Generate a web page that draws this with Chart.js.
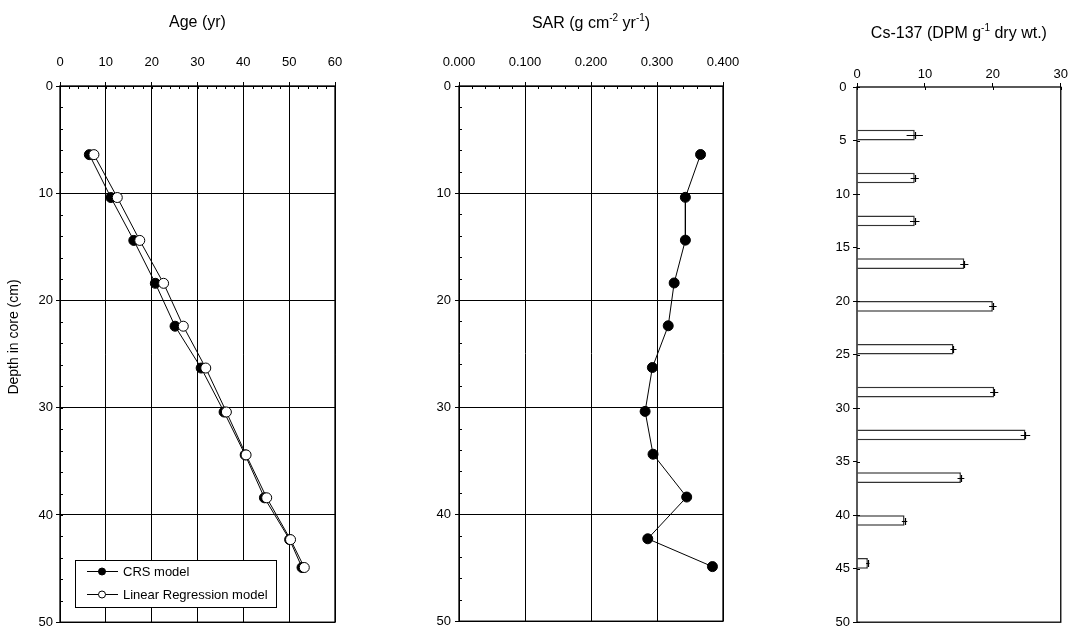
<!DOCTYPE html>
<html>
<head>
<meta charset="utf-8">
<title>Core profiles</title>
<script src="https://cdn.jsdelivr.net/npm/chart.js@4.4.0/dist/chart.umd.min.js"></script>
<style>
    html, body { margin: 0; padding: 0; background: #fff; }
    #wrap { position: relative; width: 1069px; height: 633px; }
    #wrap canvas { position: absolute; left: 0; top: 0; }
</style>
</head>
<body>
<div id="wrap">
    <canvas id="ageChart" width="1069" height="633"></canvas>
    <canvas id="sarChart" width="1069" height="633"></canvas>
    <canvas id="csChart" width="1069" height="633"></canvas>
</div>
<script>
// Mid depth of each dated slice (cm)
const depth = [6.4, 10.4, 14.4, 18.4, 22.4, 26.3, 30.4, 34.4, 38.4, 42.3, 44.9];
// Age (yr) from the two dating models
const crsAge = [6.4, 11.1, 16.1, 20.8, 25.1, 30.8, 35.8, 40.4, 44.6, 50.1, 52.8];
const lrAge = [7.4, 12.5, 17.4, 22.6, 26.9, 31.8, 36.3, 40.6, 45.1, 50.3, 53.3];
// Sediment accumulation rate (g cm-2 yr-1)
const sar = [0.366, 0.343, 0.343, 0.326, 0.317, 0.293, 0.282, 0.294, 0.345, 0.286, 0.384];
// Cs-137 activity per 1 cm slice
const csDepth = [4.5, 8.5, 12.5, 16.5, 20.5, 24.5, 28.5, 32.5, 36.5, 40.5, 44.5];
const cs137 = [8.5, 8.5, 8.5, 15.8, 20.0, 14.2, 20.2, 24.8, 15.3, 7.0, 1.6];
const csError = [1.2, 0.6, 0.7, 0.6, 0.55, 0.45, 0.6, 0.7, 0.5, 0.4, 0.25];

const legendLabels = ['CRS model', 'Linear Regression model'];

const FONT = '"Liberation Sans", Arial, sans-serif';
const tickFont = { family: FONT, size: 13 };

Chart.defaults.font.family = FONT;
Chart.defaults.color = '#000';

function pairs(xs, ys) {
    return xs.map((x, i) => ({ x: x, y: ys[i] }));
}

// Draws a label made of normal and superscript pieces, centred on cx
function drawParts(ctx, parts, cx, baseline, size) {
    const supSize = Math.round(size * 0.65);
    let total = 0;
    parts.forEach(p => {
        ctx.font = `${p.sup ? supSize : size}px ${FONT}`;
        p.w = ctx.measureText(p.t).width;
        total += p.w;
    });
    let x = cx - total / 2;
    ctx.textAlign = 'left';
    ctx.textBaseline = 'alphabetic';
    parts.forEach(p => {
        ctx.font = `${p.sup ? supSize : size}px ${FONT}`;
        ctx.fillText(p.t, x, p.sup ? baseline - size * 0.42 : baseline);
        x += p.w;
    });
}

// Frame, inner tick marks and panel title
const panelDecor = {
    id: 'panelDecor',
    afterDraw(chart, args, opts) {
        const { ctx, chartArea: a, scales } = chart;
        const xs = scales.x, ys = scales.y;
        ctx.save();
        ctx.strokeStyle = '#000';
        ctx.lineWidth = 1;
        ctx.beginPath();
        const nx = Math.round((xs.max - xs.min) / opts.xStep);
        for (let i = 0; i <= nx; i++) {
            const px = Math.round(xs.getPixelForValue(xs.min + i * opts.xStep)) + 0.5;
            ctx.moveTo(px, a.top);
            ctx.lineTo(px, a.top + opts.len);
        }
        const ny = Math.round((ys.max - ys.min) / opts.yStep);
        for (let i = 0; i <= ny; i++) {
            const py = Math.round(ys.getPixelForValue(ys.min + i * opts.yStep)) + 0.5;
            ctx.moveTo(a.left, py);
            ctx.lineTo(a.left + opts.len, py);
        }
        ctx.stroke();

        ctx.lineWidth = 1.3;
        ctx.strokeRect(a.left, a.top, a.right - a.left, a.bottom - a.top);

        ctx.fillStyle = '#000';
        drawParts(ctx, opts.title, (a.left + a.right) / 2, opts.titleY, 16);
        ctx.restore();
    }
};

// Boxed legend and depth title for the age panel
const ageExtras = {
    id: 'ageExtras',
    afterDraw(chart) {
        const ctx = chart.ctx;
        const sets = chart.data.datasets;
        ctx.save();
        ctx.fillStyle = '#fff';
        ctx.fillRect(75, 560, 201, 48);
        ctx.strokeStyle = '#000';
        ctx.lineWidth = 1;
        ctx.strokeRect(75.5, 560.5, 201, 47);
        const rows = [571, 594];
        rows.forEach((y, i) => {
            ctx.beginPath();
            ctx.moveTo(87, y + 0.5);
            ctx.lineTo(118, y + 0.5);
            ctx.stroke();
            ctx.beginPath();
            ctx.arc(102, y + 0.5, 3.5, 0, Math.PI * 2);
            ctx.fillStyle = sets[i].backgroundColor;
            ctx.fill();
            ctx.stroke();
            ctx.fillStyle = '#000';
            ctx.font = `13px ${FONT}`;
            ctx.textAlign = 'left';
            ctx.textBaseline = 'middle';
            ctx.fillText(legendLabels[i], 123, y + 1);
        });

        ctx.translate(14, 337);
        ctx.rotate(-Math.PI / 2);
        ctx.font = `14px ${FONT}`;
        ctx.textAlign = 'center';
        ctx.textBaseline = 'middle';
        ctx.fillText('Depth in core (cm)', 0, 0);
        ctx.restore();
    }
};

// Horizontal error bars on the Cs-137 columns
const csErrorBars = {
    id: 'csErrorBars',
    afterDatasetsDraw(chart) {
        const { ctx, scales } = chart;
        ctx.save();
        ctx.strokeStyle = '#000';
        ctx.lineWidth = 1.2;
        ctx.beginPath();
        csDepth.forEach((d, i) => {
            const py = Math.round(scales.y.getPixelForValue(d)) + 0.5;
            const x1 = scales.x.getPixelForValue(cs137[i] - csError[i]);
            const x2 = scales.x.getPixelForValue(cs137[i] + csError[i]);
            const xv = Math.round(scales.x.getPixelForValue(cs137[i])) + 0.5;
            ctx.moveTo(x1, py);
            ctx.lineTo(x2, py);
            ctx.moveTo(xv, py - 3.5);
            ctx.lineTo(xv, py + 3.5);
        });
        ctx.stroke();
        ctx.restore();
    }
};

function topAxis(height, min, max, step, pad, gridOn, fmt) {
    return {
        type: 'linear',
        position: 'top',
        min: min,
        max: max,
        afterFit: s => { s.height = height; },
        ticks: {
            stepSize: step,
            font: tickFont,
            color: '#000',
            padding: pad,
            maxRotation: 0,
            callback: fmt || (v => v)
        },
        grid: { color: '#000', lineWidth: 1, tickLength: 4, drawOnChartArea: gridOn },
        border: { display: false }
    };
}

function depthAxis(width, step, pad, gridOn, align) {
    return {
        type: 'linear',
        position: 'left',
        reverse: true,
        offset: false,
        min: 0,
        max: 50,
        afterFit: s => { s.width = width; },
        ticks: { stepSize: step, font: tickFont, color: '#000', padding: pad, crossAlign: align || 'near' },
        grid: { color: '#000', lineWidth: 1, tickLength: 4, drawOnChartArea: gridOn, offset: false },
        border: { display: false }
    };
}

const common = {
    responsive: false,
    animation: false,
    events: [],
    plugins: { legend: { display: false }, tooltip: { enabled: false } }
};

document.addEventListener('DOMContentLoaded', () => {
    // Age-depth models
    new Chart(document.getElementById('ageChart'), {
        type: 'scatter',
        data: {
            datasets: [
                {
                    data: pairs(crsAge, depth),
                    showLine: true,
                    order: 1,
                    borderColor: '#000',
                    borderWidth: 1,
                    backgroundColor: '#000',
                    pointRadius: 5,
                    pointBorderWidth: 1
                },
                {
                    data: pairs(lrAge, depth),
                    showLine: true,
                    order: 0,
                    borderColor: '#000',
                    borderWidth: 1,
                    backgroundColor: '#fff',
                    pointBackgroundColor: '#fff',
                    pointBorderColor: '#000',
                    pointRadius: 5,
                    pointBorderWidth: 1
                }
            ]
        },
        options: Object.assign({}, common, {
            layout: { padding: { left: 0, top: 0, right: 1069 - 335, bottom: 633 - 625 } },
            scales: {
                x: topAxis(86, 0, 60, 10, 12, true),
                y: depthAxis(60, 10, 3, true)
            },
            plugins: Object.assign({}, common.plugins, {
                panelDecor: { xStep: 2, yStep: 2, len: 3, titleY: 27, title: [{ t: 'Age (yr)' }] }
            })
        }),
        plugins: [panelDecor, ageExtras]
    });

    // Sediment accumulation rate
    new Chart(document.getElementById('sarChart'), {
        type: 'scatter',
        data: {
            datasets: [{
                data: pairs(sar, depth),
                showLine: true,
                borderColor: '#000',
                borderWidth: 1,
                backgroundColor: '#000',
                pointRadius: 5
            }]
        },
        options: Object.assign({}, common, {
            layout: { padding: { left: 0, top: 0, right: 1069 - 723, bottom: 633 - 625 } },
            scales: {
                x: topAxis(86, 0, 0.4, 0.1, 12, true, v => Number(v).toFixed(3)),
                y: depthAxis(459, 10, 4, true)
            },
            plugins: Object.assign({}, common.plugins, {
                panelDecor: {
                    xStep: 0.02, yStep: 2, len: 3, titleY: 28,
                    title: [{ t: 'SAR (g cm' }, { t: '-2', sup: true }, { t: ' yr' }, { t: '-1', sup: true }, { t: ')' }]
                }
            })
        }),
        plugins: [panelDecor]
    });

    // Cs-137 activity
    new Chart(document.getElementById('csChart'), {
        type: 'bar',
        data: {
            datasets: [{
                data: pairs(cs137, csDepth),
                backgroundColor: '#fff',
                borderColor: '#333',
                borderWidth: 1.5,
                categoryPercentage: 1,
                barPercentage: 0.25
            }]
        },
        options: Object.assign({}, common, {
            indexAxis: 'y',
            layout: { padding: { left: 0, top: 0, right: 1069 - 1061, bottom: 633 - 625 } },
            scales: {
                x: topAxis(87, 0, 30, 10, 1, false),
                y: depthAxis(857, 5, 3, false, 'center')
            },
            plugins: Object.assign({}, common.plugins, {
                panelDecor: {
                    xStep: 10, yStep: 5, len: 3, titleY: 38,
                    title: [{ t: 'Cs-137 (DPM g' }, { t: '-1', sup: true }, { t: ' dry wt.)' }]
                }
            })
        }),
        plugins: [panelDecor, csErrorBars]
    });
});
</script>
</body>
</html>
